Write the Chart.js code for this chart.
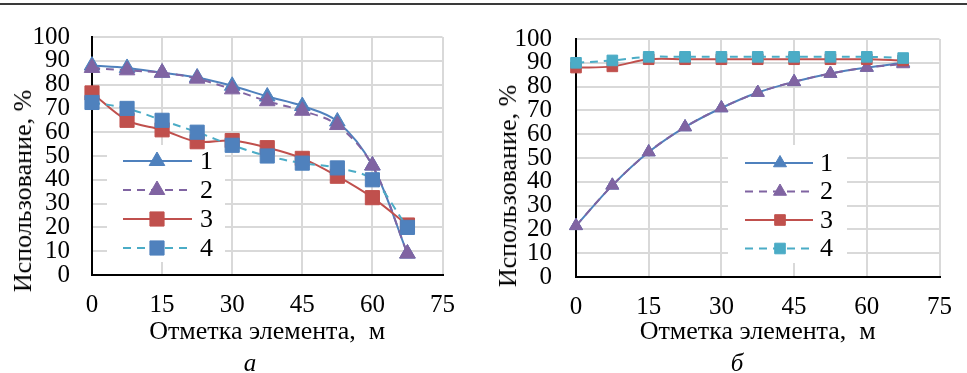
<!DOCTYPE html>
<html lang="ru">
<head>
    <meta charset="UTF-8">
    <title>Использование элементов по высоте</title>
    <style>
        body {
            margin: 0;
            width: 967px;
            height: 373px;
            background: #fff;
            position: relative;
            overflow: hidden;
            font-family: "Liberation Serif", "Times New Roman", serif;
            color: #000;
        }
        .rule {
            position: absolute;
            left: 0;
            top: 3px;
            width: 967px;
            border-top: 2px solid #3a3a3a;
        }
        .box {
            position: absolute;
            top: 0;
            height: 373px;
        }
        #boxA { left: 0; width: 470px; }
        #boxB { left: 480px; width: 487px; }
        .ytitle {
            position: absolute;
            font-size: 26px;
            line-height: 1;
            white-space: nowrap;
            transform: translate(-50%, -50%) rotate(-90deg);
        }
        .caption {
            position: absolute;
            top: 350px;
            font-size: 25px;
            line-height: 1;
            font-style: italic;
            transform: translateX(-50%);
        }
    </style>
    <script src="https://cdn.jsdelivr.net/npm/chart.js"></script>
</head>
<body>

<div class="rule"></div>
<div class="box" id="boxA"><canvas id="chartA"></canvas></div>
<div class="box" id="boxB"><canvas id="chartB"></canvas></div>
<div class="ytitle" style="left:23px; top:191px;">Использование, %</div>
<div class="ytitle" style="left:508px; top:186px;">Использование, %</div>
<div class="caption" style="left:250px;">а</div>
<div class="caption" style="left:737px;">б</div>

<script>
// отметки элементов, м
const otmetki = [0, 7.5, 15, 22.5, 30, 37.5, 45, 52.5, 60, 67.5];
const seriesNames = ['1', '2', '3', '4'];

// график а
const a1 = [88, 87, 85, 83, 79.5, 75, 71, 64.5, 46, 9];
const a2 = [87, 86, 85, 82.5, 78, 73, 69, 63, 46, 9];
const a3 = [76.5, 65, 61, 56, 56.5, 53.5, 49, 41.5, 32.5, 21];
const a4 = [72.5, 70, 65, 60, 54.5, 50, 47, 45, 40, 20];

// график б
const b1 = [21.5, 38.5, 52.5, 63, 71, 77.5, 82, 85.5, 88, 90];
const b2 = [21.5, 38.5, 52.5, 63, 71, 77.5, 82, 85.5, 88, 89.5];
const b3 = [88, 88.5, 91.5, 91.5, 91.5, 91.5, 91.5, 91.5, 91.5, 91];
const b4 = [90, 91, 92.5, 92.5, 92.5, 92.5, 92.5, 92.5, 92.5, 92];

const BLUE = '#4F81BD', PURPLE = '#8064A2', RED = '#C0504D', CYAN = '#4BACC6';
const FONT = '"Liberation Serif", "Times New Roman", serif';

Chart.defaults.font.family = FONT;
Chart.defaults.font.size = 25;
Chart.defaults.color = '#000';

// легенда внутри области графика, с белой подложкой
const legendInside = {
    id: 'legendInside',
    beforeDatasetsDraw(chart, args, o) {
        const ctx = chart.ctx;
        ctx.save();
        ctx.fillStyle = '#fff';
        ctx.fillRect(o.x, o.y, o.w, o.h);
        chart.data.datasets.forEach((ds, i) => {
            const y = o.y + o.first + i * o.gap;
            ctx.strokeStyle = ds.borderColor;
            ctx.lineWidth = ds.borderWidth;
            ctx.setLineDash(ds.borderDash || []);
            ctx.beginPath();
            ctx.moveTo(o.x + o.l0, y);
            ctx.lineTo(o.x + o.l1, y);
            ctx.stroke();
            ctx.setLineDash([]);
            const cx = o.x + o.mx, r = ds.pointRadius;
            ctx.fillStyle = ds.pointBackgroundColor;
            ctx.strokeStyle = ds.pointBorderColor;
            ctx.lineWidth = 1;
            ctx.beginPath();
            if (ds.pointStyle === 'triangle') {
                ctx.moveTo(cx, y - r);
                ctx.lineTo(cx + r * 0.866, y + r * 0.5);
                ctx.lineTo(cx - r * 0.866, y + r * 0.5);
                ctx.closePath();
            } else {
                const s = r * Math.SQRT1_2;
                ctx.rect(cx - s, y - s, 2 * s, 2 * s);
            }
            ctx.fill();
            ctx.stroke();
            ctx.fillStyle = '#000';
            ctx.font = '26px ' + FONT;
            ctx.textBaseline = 'middle';
            ctx.fillText(ds.label, o.x + o.tx, y + 1);
        });
        ctx.restore();
    }
};

function makeSet(label, ys, color, markColor, style, radius, dashed, order) {
    return {
        label: label,
        data: otmetki.map((x, i) => ({ x: x, y: ys[i] })),
        borderColor: color,
        borderWidth: 2,
        borderDash: dashed ? [8, 6] : [],
        pointStyle: style,
        pointRadius: radius,
        pointBackgroundColor: markColor,
        pointBorderColor: markColor,
        pointBorderWidth: 1,
        tension: 0.35,
        clip: false,
        order: order
    };
}

function makeChart(id, sets, yWidth, yPad, top, bottom, legend) {
    const ctx = document.getElementById(id).getContext('2d');
    return new Chart(ctx, {
        type: 'line',
        data: { datasets: sets },
        options: {
            responsive: true,
            maintainAspectRatio: false,
            animation: false,
            layout: { padding: { top: top, left: 0, right: 0, bottom: 0 } },
            plugins: {
                legend: { display: false },
                tooltip: { enabled: false },
                legendInside: legend
            },
            scales: {
                x: {
                    type: 'linear',
                    min: 0,
                    max: 75,
                    ticks: { stepSize: 15, padding: 15, autoSkip: false, maxRotation: 0 },
                    grid: { color: '#d9d9d9', lineWidth: 2, drawTicks: false },
                    border: { color: '#000', width: 2 },
                    title: { display: true, text: 'Отметка элемента,  м', font: { size: 26 }, padding: { top: 0, bottom: 25 } },
                    afterFit: s => { s.height = 373 - bottom; }
                },
                y: {
                    min: 0,
                    max: 100,
                    ticks: { stepSize: 10, padding: yPad, autoSkip: false },
                    grid: { color: '#d9d9d9', lineWidth: 2, drawTicks: false },
                    border: { color: '#000', width: 2 },
                    afterFit: s => { s.width = yWidth; }
                }
            }
        },
        plugins: [legendInside]
    });
}

makeChart('chartA', [
    makeSet(seriesNames[0], a1, BLUE, BLUE, 'triangle', 9, false, 4),
    makeSet(seriesNames[1], a2, PURPLE, PURPLE, 'triangle', 9, true, 3),
    makeSet(seriesNames[2], a3, RED, RED, 'rect', 10, false, 2),
    makeSet(seriesNames[3], a4, CYAN, BLUE, 'rect', 10, true, 1)
], 92, 22, 25, 275, { x: 107, y: 145, w: 118, h: 117, first: 16, gap: 29, l0: 16, l1: 85, mx: 50, tx: 93 });

makeChart('chartB', [
    makeSet(seriesNames[0], b1, BLUE, BLUE, 'triangle', 7.5, false, 4),
    makeSet(seriesNames[1], b2, PURPLE, PURPLE, 'triangle', 7.5, true, 3),
    makeSet(seriesNames[2], b3, RED, RED, 'rect', 7.5, false, 2),
    makeSet(seriesNames[3], b4, CYAN, CYAN, 'rect', 7.5, true, 1)
], 96, 24, 23, 277, { x: 248, y: 145, w: 119, h: 118, first: 18, gap: 28.5, l0: 17, l1: 85, mx: 52, tx: 92 });
</script>

</body>
</html>
